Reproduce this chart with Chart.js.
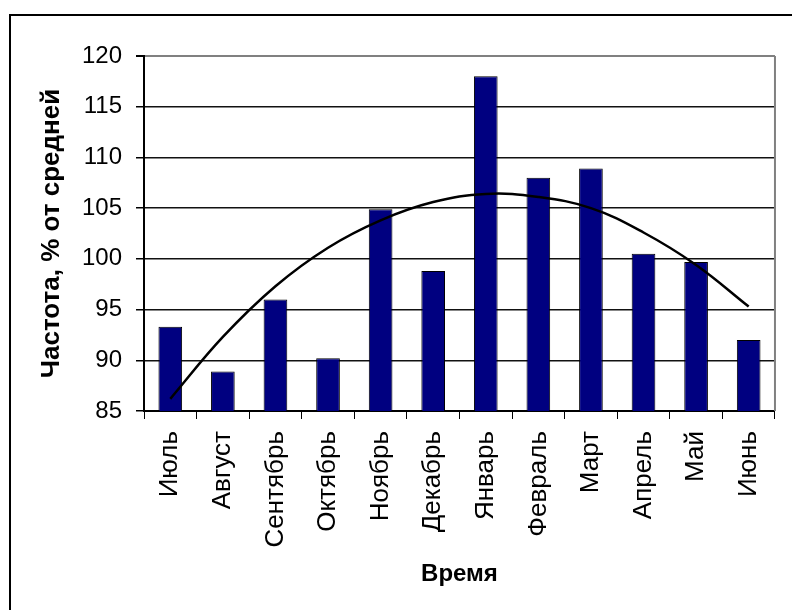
<!DOCTYPE html>
<html>
<head>
<meta charset="utf-8">
<script src="https://cdn.jsdelivr.net/npm/chart.js@4"></script>
<style>
  body { margin: 0; background: #fff; }
  #wrap { position: relative; width: 792px; height: 610px; }
  #frame { position: absolute; left: 9px; top: 14px; right: 0; bottom: 0;
           border-left: 2px solid #000; border-top: 2px solid #000; pointer-events: none; }
  canvas { position: absolute; left: 0; top: 0; }
</style>
</head>
<body>
<div id="wrap">
  <canvas id="freqChart" width="792" height="610"></canvas>
  <div id="frame"></div>
</div>
<script>
const months = ['Июль', 'Август', 'Сентябрь', 'Октябрь', 'Ноябрь', 'Декабрь',
                'Январь', 'Февраль', 'Март', 'Апрель', 'Май', 'Июнь'];
const freq = [93.3, 88.9, 96.0, 90.2, 104.9, 98.8, 118.0, 108.0, 108.9, 100.5, 99.7, 92.0];
const trend = [86.2, 92.3, 97.3, 101.1, 103.8, 105.6, 106.4, 106.1, 105.0, 102.6, 99.4, 95.3];
const yTicks = [85, 90, 95, 100, 105, 110, 115, 120];

const FONT = '"Liberation Sans", Arial, sans-serif';

// grey frame on the right side of the plot area
const plotBorder = {
    id: 'plotBorder',
    beforeDatasetsDraw(chart) {
        const { ctx, chartArea: a } = chart;
        ctx.save();
        ctx.strokeStyle = '#808080';
        ctx.lineWidth = 2;
        ctx.beginPath();
        ctx.moveTo(a.right, a.top);
        ctx.lineTo(a.right, a.bottom);
        ctx.stroke();
        ctx.restore();
    }
};

const ctx = document.getElementById('freqChart').getContext('2d');

const chart = new Chart(ctx, {
    data: {
        labels: months,
        datasets: [{
            type: 'line',
            label: 'Тренд',
            data: trend,
            borderColor: '#000',
            borderWidth: 2.5,
            pointRadius: 0,
            tension: 0.4,
            fill: false,
            order: 0
        }, {
            type: 'bar',
            label: 'Частота',
            data: freq,
            backgroundColor: '#000080',
            borderColor: '#000',
            borderWidth: 1,
            barPercentage: 1,
            categoryPercentage: 0.45,
            order: 1
        }]
    },
    options: {
        responsive: false,
        animation: false,
        layout: { padding: { top: 56, right: 3, left: 0, bottom: 0 } },
        plugins: {
            legend: { display: false },
            tooltip: { enabled: false }
        },
        scales: {
            x: {
                offset: true,
                afterFit: s => { s.height = 199; },
                border: { color: '#000', width: 2 },
                grid: {
                    offset: true,
                    drawOnChartArea: false,
                    drawTicks: true,
                    tickLength: 8,
                    color: '#000',
                    lineWidth: 1
                },
                ticks: {
                    color: '#000',
                    minRotation: 90,
                    maxRotation: 90,
                    autoSkip: false,
                    padding: 12,
                    font: { family: FONT, size: 26 }
                },
                title: {
                    display: true,
                    text: 'Время',
                    color: '#000',
                    padding: { top: 0, bottom: 21 },
                    font: { family: FONT, size: 24, weight: 'bold' }
                }
            },
            y: {
                min: 85,
                max: 120,
                afterFit: s => { s.width = 144; },
                afterBuildTicks: s => { s.ticks = yTicks.map(v => ({ value: v })); },
                border: { color: '#000', width: 2 },
                grid: {
                    color: c => (c.tick && c.tick.value === 120) ? '#808080' : '#111',
                    lineWidth: c => (c.tick && c.tick.value === 120) ? 2 : 1.5,
                    tickLength: 8,
                    tickColor: '#000'
                },
                ticks: {
                    color: '#000',
                    padding: 14,
                    font: { family: FONT, size: 24 }
                },
                title: {
                    display: true,
                    text: 'Частота, % от средней',
                    color: '#000',
                    padding: { top: 36, bottom: 0 },
                    font: { family: FONT, size: 26, weight: 'bold' }
                }
            }
        }
    },
    plugins: [plotBorder]
});
</script>
</body>
</html>
